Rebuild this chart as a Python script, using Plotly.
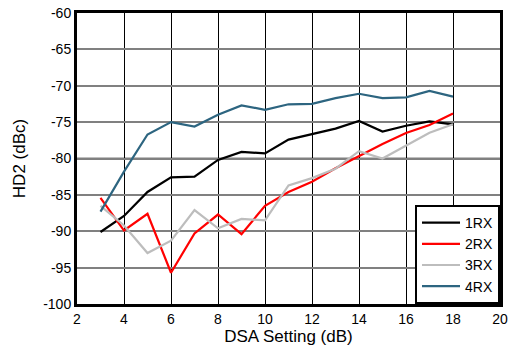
import plotly.graph_objects as go

dsa = [3, 4, 5, 6, 7, 8, 9, 10, 11, 12, 13, 14, 15, 16, 17, 18]
rx1 = [-90.1, -87.9, -84.6, -82.6, -82.5, -80.2, -79.1, -79.3, -77.4, -76.7, -75.9, -74.85, -76.3, -75.5, -74.9, -75.3]
rx2 = [-85.4, -89.9, -87.6, -95.7, -90.3, -87.7, -90.4, -86.5, -84.6, -83.2, -81.35, -79.65, -78.0, -76.5, -75.4, -73.8]
rx3 = [-86.5, -89.2, -93.0, -91.3, -87.1, -89.6, -88.3, -88.5, -83.7, -82.7, -81.4, -79.0, -80.0, -78.2, -76.45, -75.3]
rx4 = [-87.3, -81.8, -76.7, -75.0, -75.6, -74.0, -72.7, -73.3, -72.55, -72.5, -71.7, -71.1, -71.7, -71.6, -70.7, -71.5]
names = ["1RX", "2RX", "3RX", "4RX"]
colors = ["#000000", "#ff0000", "#bdbdbd", "#2d6580"]

y_ticks = [-100, -95, -90, -85, -80, -75, -70, -65, -60]
y_tick_labels = ["-100", "-95", "-90", "-85", "-80", "-75", "-70", "-65", "-60"]
y_dark_grid = [-90, -80, -70]
x_ticks = [2, 4, 6, 8, 10, 12, 14, 16, 18, 20]

fig = go.Figure()
for name, vals, col in zip(names, [rx1, rx2, rx3, rx4], colors):
    fig.add_trace(go.Scatter(x=dsa, y=vals, mode="lines", name=name,
                             line=dict(color=col, width=2.2)))

for v in y_dark_grid:
    fig.add_shape(type="line", xref="x domain", yref="y", x0=0, x1=1, y0=v, y1=v,
                  line=dict(color="#000000", width=1.3), layer="below")

font = dict(family="Liberation Sans, Arial, sans-serif", size=14, color="#000000")
fig.update_layout(
    width=513, height=349,
    margin=dict(l=77, r=13, t=13, b=45, autoexpand=False),
    paper_bgcolor="white", plot_bgcolor="white",
    font=font,
    xaxis=dict(range=[2, 20], tickmode="array", tickvals=x_ticks, showgrid=True,
               gridcolor="#000000", gridwidth=1.3, showline=True, mirror=True,
               linecolor="#000000", linewidth=3, zeroline=False, ticks="",
               automargin=False, title=dict(text="DSA Setting (dB)", standoff=2),
               tickfont=font),
    yaxis=dict(range=[-100, -60], tickmode="array", tickvals=y_ticks, ticktext=y_tick_labels,
               showgrid=True, gridcolor="#808080", gridwidth=2, showline=True, mirror=True,
               linecolor="#000000", linewidth=3, zeroline=False, ticks="",
               automargin=False, title=dict(text="HD2 (dBc)", standoff=14),
               tickfont=font),
    legend=dict(x=1, xanchor="right", y=0, yanchor="bottom", bgcolor="white",
                bordercolor="#000000", borderwidth=2, font=font, tracegroupgap=0,
                itemwidth=38),
    showlegend=True,
)

fig.write_html("out.html", config={"displayModeBar": False},
               post_script="document.body.style.margin='0';document.body.style.padding='0';")
